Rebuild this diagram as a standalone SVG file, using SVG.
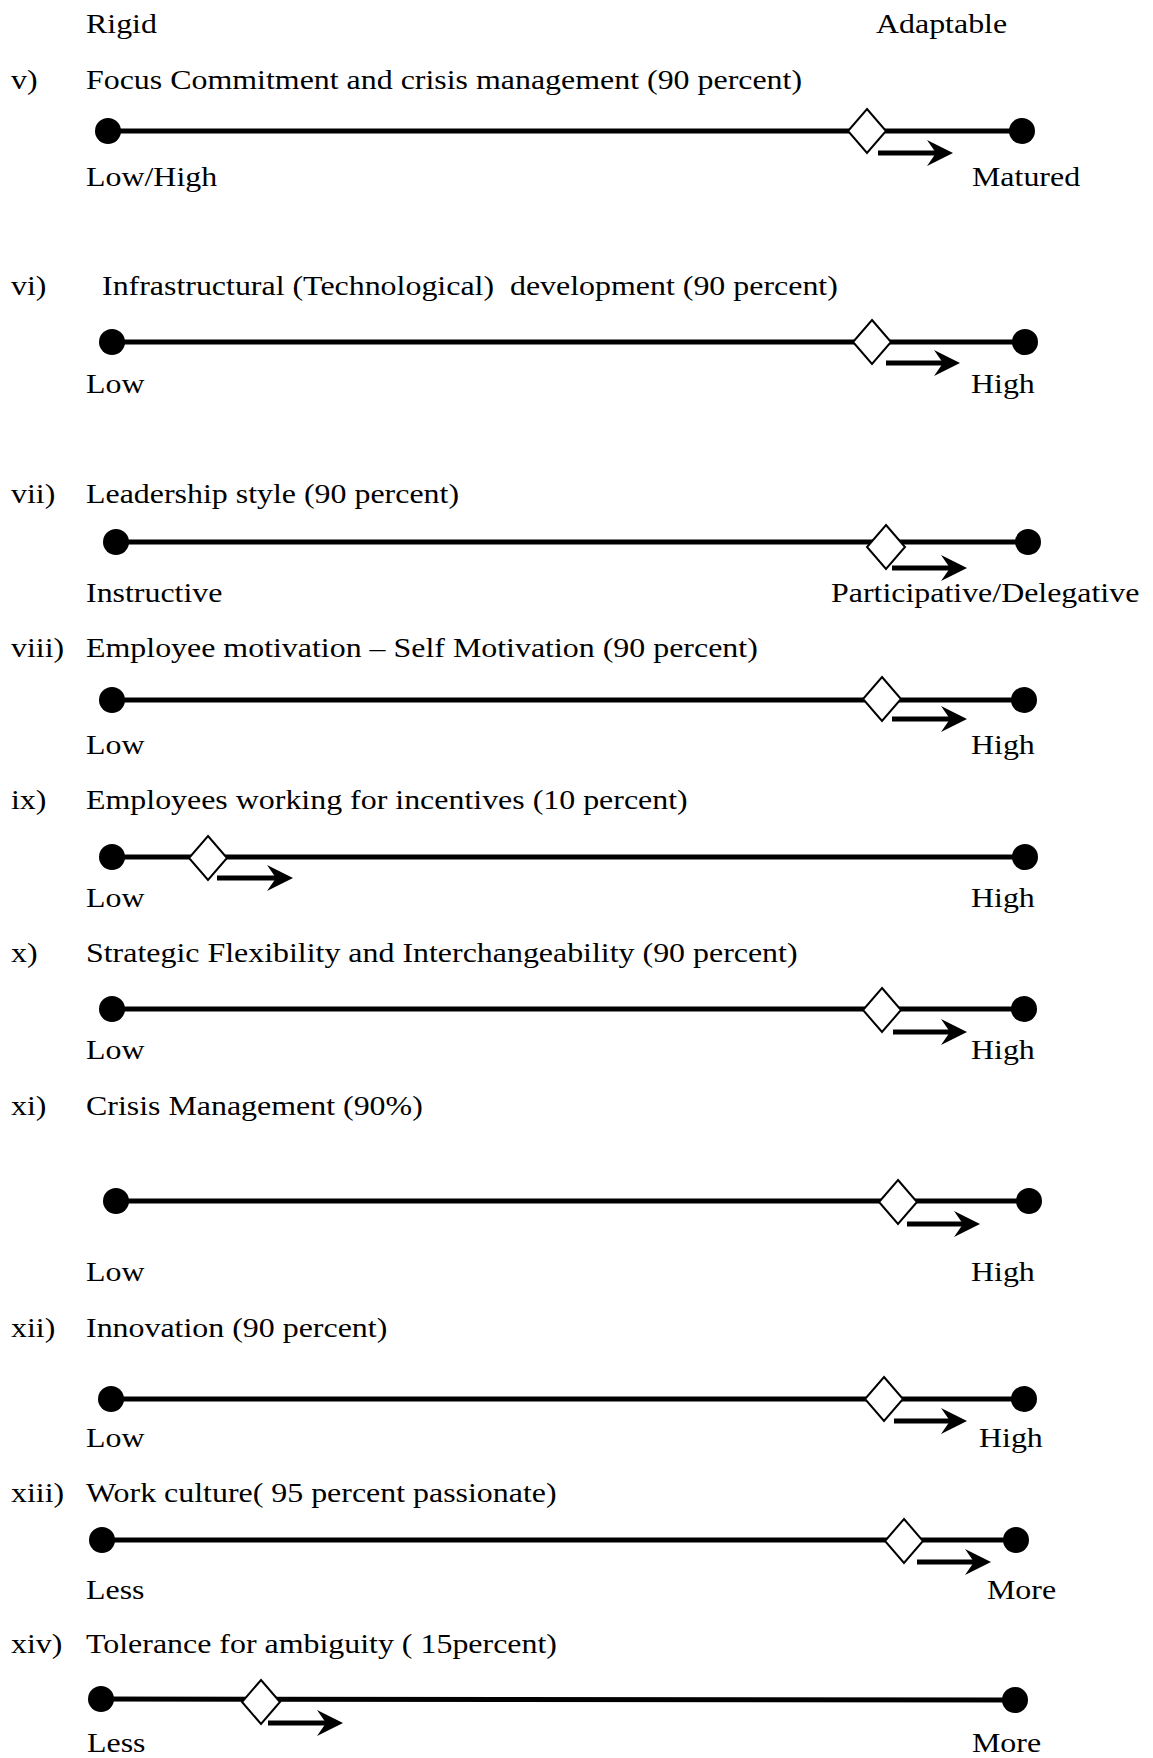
<svg xmlns="http://www.w3.org/2000/svg" width="1153" height="1758" viewBox="0 0 1153 1758">
  <style>
    text { font-family: "Liberation Serif", "Times New Roman", serif; font-size: 28px; fill: #000; }
    .scale { stroke: #000; stroke-width: 5; fill: none; }
    .move { stroke: #000; stroke-width: 5; fill: none; marker-end: url(#head); }
    .dot { fill: #000; }
    .mark { fill: #fff; stroke: #000; stroke-width: 2; stroke-linejoin: miter; }
  </style>
  <defs>
    <marker id="head" viewBox="0 0 26 26" refX="16" refY="13" markerWidth="26" markerHeight="26" markerUnits="userSpaceOnUse" orient="auto">
      <path d="M26,13 L0,0 L9,13 L0,26 Z" fill="#000"/>
    </marker>
  </defs>
  <rect width="1153" height="1758" fill="#fff"/>

  <!-- scale bars and direction arrows -->
  <g id="connectors">
    <line class="scale" x1="108" y1="131" x2="1022" y2="131"/>
    <line class="move" x1="878" y1="153" x2="943" y2="153"/>
    <line class="scale" x1="112" y1="342" x2="1025" y2="342"/>
    <line class="move" x1="886" y1="363" x2="950" y2="363"/>
    <line class="scale" x1="116" y1="542" x2="1028" y2="542"/>
    <line class="move" x1="892" y1="568" x2="957" y2="568"/>
    <line class="scale" x1="112" y1="700" x2="1024" y2="700"/>
    <line class="move" x1="892" y1="719" x2="957" y2="719"/>
    <line class="scale" x1="112" y1="857" x2="1025" y2="857"/>
    <line class="move" x1="217" y1="878" x2="283" y2="878"/>
    <line class="scale" x1="112" y1="1009" x2="1024" y2="1009"/>
    <line class="move" x1="893" y1="1032" x2="957" y2="1032"/>
    <line class="scale" x1="116" y1="1201" x2="1029" y2="1201"/>
    <line class="move" x1="907" y1="1224" x2="970" y2="1224"/>
    <line class="scale" x1="111" y1="1399" x2="1024" y2="1399"/>
    <line class="move" x1="894" y1="1421" x2="957" y2="1421"/>
    <line class="scale" x1="102" y1="1540" x2="1016" y2="1540"/>
    <line class="move" x1="917" y1="1562" x2="981" y2="1562"/>
    <line class="scale" x1="101" y1="1699" x2="1015" y2="1700"/>
    <line class="move" x1="268" y1="1723" x2="333" y2="1723"/>
  </g>

  <!-- column headings -->
  <g id="header">
    <text transform="translate(86 33) scale(1.14 1)">Rigid</text>
    <text transform="translate(876 33) scale(1.14 1)">Adaptable</text>
  </g>

  <g id="row-v">
    <text transform="translate(11 89) scale(1.14 1)">v)</text>
    <text transform="translate(86 89) scale(1.14 1)">Focus Commitment and crisis management (90 percent)</text>
    <circle class="dot" cx="108" cy="131" r="13"/>
    <circle class="dot" cx="1022" cy="131" r="13"/>
    <polygon class="mark" points="867,109 886,131 867,153 848,131"/>
    <text transform="translate(86 186) scale(1.14 1)">Low/High</text>
    <text transform="translate(972 186) scale(1.14 1)">Matured</text>
  </g>

  <g id="row-vi">
    <text transform="translate(11 295) scale(1.14 1)">vi)</text>
    <text style="white-space:pre" transform="translate(102 295) scale(1.14 1)">Infrastructural (Technological)  development (90 percent)</text>
    <circle class="dot" cx="112" cy="342" r="13"/>
    <circle class="dot" cx="1025" cy="342" r="13"/>
    <polygon class="mark" points="872,320 891,342 872,364 853,342"/>
    <text transform="translate(86 393) scale(1.14 1)">Low</text>
    <text transform="translate(971 393) scale(1.14 1)">High</text>
  </g>

  <g id="row-vii">
    <text transform="translate(11 503) scale(1.14 1)">vii)</text>
    <text transform="translate(86 503) scale(1.14 1)">Leadership style (90 percent)</text>
    <circle class="dot" cx="116" cy="542" r="13"/>
    <circle class="dot" cx="1028" cy="542" r="13"/>
    <polygon class="mark" points="886,525 905,547 886,569 867,547"/>
    <text transform="translate(86 602) scale(1.14 1)">Instructive</text>
    <text transform="translate(831 602) scale(1.14 1)">Participative/Delegative</text>
  </g>

  <g id="row-viii">
    <text transform="translate(11 657) scale(1.14 1)">viii)</text>
    <text transform="translate(86 657) scale(1.14 1)">Employee motivation – Self Motivation (90 percent)</text>
    <circle class="dot" cx="112" cy="700" r="13"/>
    <circle class="dot" cx="1024" cy="700" r="13"/>
    <polygon class="mark" points="882,677 901,699 882,721 863,699"/>
    <text transform="translate(86 754) scale(1.14 1)">Low</text>
    <text transform="translate(971 754) scale(1.14 1)">High</text>
  </g>

  <g id="row-ix">
    <text transform="translate(11 809) scale(1.14 1)">ix)</text>
    <text transform="translate(86 809) scale(1.14 1)">Employees working for incentives (10 percent)</text>
    <circle class="dot" cx="112" cy="857" r="13"/>
    <circle class="dot" cx="1025" cy="857" r="13"/>
    <polygon class="mark" points="208,836 227,858 208,880 189,858"/>
    <text transform="translate(86 907) scale(1.14 1)">Low</text>
    <text transform="translate(971 907) scale(1.14 1)">High</text>
  </g>

  <g id="row-x">
    <text transform="translate(11 962) scale(1.14 1)">x)</text>
    <text transform="translate(86 962) scale(1.14 1)">Strategic Flexibility and Interchangeability (90 percent)</text>
    <circle class="dot" cx="112" cy="1009" r="13"/>
    <circle class="dot" cx="1024" cy="1009" r="13"/>
    <polygon class="mark" points="882,988 901,1010 882,1032 863,1010"/>
    <text transform="translate(86 1059) scale(1.14 1)">Low</text>
    <text transform="translate(971 1059) scale(1.14 1)">High</text>
  </g>

  <g id="row-xi">
    <text transform="translate(11 1115) scale(1.14 1)">xi)</text>
    <text transform="translate(86 1115) scale(1.14 1)">Crisis Management (90%)</text>
    <circle class="dot" cx="116" cy="1201" r="13"/>
    <circle class="dot" cx="1029" cy="1201" r="13"/>
    <polygon class="mark" points="898,1180 917,1202 898,1224 879,1202"/>
    <text transform="translate(86 1281) scale(1.14 1)">Low</text>
    <text transform="translate(971 1281) scale(1.14 1)">High</text>
  </g>

  <g id="row-xii">
    <text transform="translate(11 1337) scale(1.14 1)">xii)</text>
    <text transform="translate(86 1337) scale(1.14 1)">Innovation (90 percent)</text>
    <circle class="dot" cx="111" cy="1399" r="13"/>
    <circle class="dot" cx="1024" cy="1399" r="13"/>
    <polygon class="mark" points="884,1377 903,1399 884,1421 865,1399"/>
    <text transform="translate(86 1447) scale(1.14 1)">Low</text>
    <text transform="translate(979 1447) scale(1.14 1)">High</text>
  </g>

  <g id="row-xiii">
    <text transform="translate(11 1502) scale(1.14 1)">xiii)</text>
    <text transform="translate(86 1502) scale(1.14 1)">Work culture( 95 percent passionate)</text>
    <circle class="dot" cx="102" cy="1540" r="13"/>
    <circle class="dot" cx="1016" cy="1540" r="13"/>
    <polygon class="mark" points="904,1519 923,1541 904,1563 885,1541"/>
    <text transform="translate(86 1599) scale(1.14 1)">Less</text>
    <text transform="translate(987 1599) scale(1.14 1)">More</text>
  </g>

  <g id="row-xiv">
    <text transform="translate(11 1653) scale(1.14 1)">xiv)</text>
    <text transform="translate(86 1653) scale(1.14 1)">Tolerance for ambiguity ( 15percent)</text>
    <circle class="dot" cx="101" cy="1699" r="13"/>
    <circle class="dot" cx="1015" cy="1700" r="13"/>
    <polygon class="mark" points="261,1680 280,1702 261,1724 242,1702"/>
    <text transform="translate(87 1752) scale(1.14 1)">Less</text>
    <text transform="translate(972 1752) scale(1.14 1)">More</text>
  </g>
</svg>
